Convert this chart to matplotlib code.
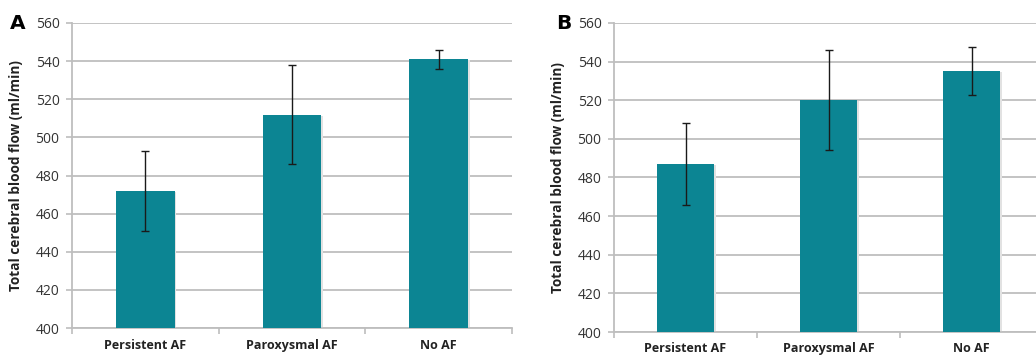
import matplotlib
matplotlib.use("Agg")
import matplotlib.pyplot as plt
import numpy as np

categories = ["Persistent AF", "Paroxysmal AF", "No AF"]
values_a = [472, 512, 541]
errors_a = [21, 26, 5]
values_b = [487, 520, 535]
errors_b = [21, 26, 12.5]
yticks = [400, 420, 440, 460, 480, 500, 520, 540, 560]
ylabel = "Total cerebral blood flow (ml/min)"

plt.rcParams['font.family'] = ['Open Sans', 'DejaVu Sans']

bar_color = "#0C8593"
grid_color = "#BEBEBE"

fig = plt.figure(figsize=(10.36, 3.55), dpi=100)

def draw(ax, vals, errs, letter, pos, xpad):
    x = np.arange(len(categories))
    # soft shadow
    ax.bar(x + 0.012, np.array(vals) - 0.6, width=0.4, color="#e2e2e2", zorder=2)
    ax.bar(x, vals, width=0.4, color=bar_color, zorder=3)
    ax.errorbar(x, vals, yerr=errs, fmt="none", ecolor="#1a1a1a",
                elinewidth=1, capsize=3, capthick=1, zorder=4)
    ax.set_ylim(400, 560)
    ax.set_xlim(-0.5, 2.5)
    ax.set_yticks(yticks)
    ax.set_yticklabels([str(t) for t in yticks], fontsize=10, color="#333333")
    ax.set_xticks(x)
    ax.set_xticklabels(categories, fontsize=9, fontweight="bold", color="#222222")
    ax.set_xticks([-0.5, 0.5, 1.5, 2.5], minor=True)
    ax.tick_params(axis="x", which="major", length=0, pad=xpad)
    ax.tick_params(axis="x", which="minor", length=4, color=grid_color, width=1.2)
    ax.tick_params(axis="y", length=4, color=grid_color, width=1.2, pad=5)
    ax.yaxis.grid(True, color=grid_color, linewidth=1.3, zorder=0)
    ax.set_axisbelow(True)
    for s in ["top", "right"]:
        ax.spines[s].set_visible(False)
    for s in ["left", "bottom"]:
        ax.spines[s].set_color(grid_color)
        ax.spines[s].set_linewidth(1.3)
    ax.set_ylabel(ylabel, fontsize=9.8, fontweight="bold", color="#222222", labelpad=9)
    fig.text(pos[0], pos[1], letter, fontsize=14.5, fontweight="bold",
             family="DejaVu Sans", ha="left", va="top")

ax1 = fig.add_axes([72/1036, 1 - 328/355, 440/1036, 305/355])
draw(ax1, values_a, errors_a, "A", (10/1036, 1 - 14/355), 8)
ax2 = fig.add_axes([614/1036, 1 - 332/355, 429/1036, 309/355])
draw(ax2, values_b, errors_b, "B", (556/1036, 1 - 14/355), 7)

fig.savefig("out.png", dpi=100)
